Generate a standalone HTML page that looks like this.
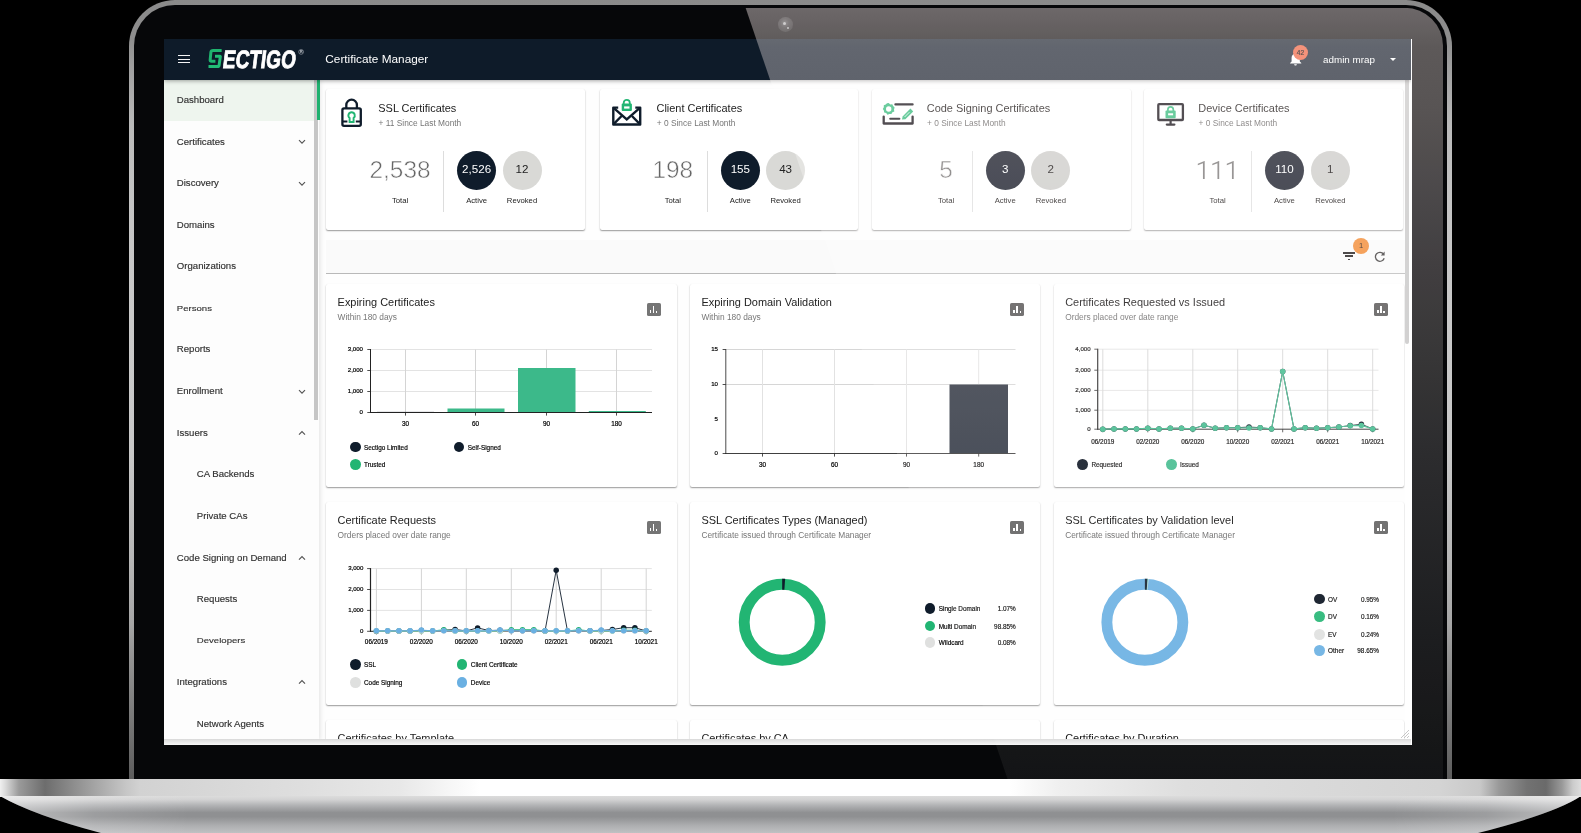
<!DOCTYPE html><html><head><meta charset="utf-8"><title>Sectigo Certificate Manager</title><style>
*{box-sizing:border-box}
html,body{margin:0;padding:0}
body{width:1581px;height:833px;overflow:hidden;background:#000;position:relative;font-family:"Liberation Sans",sans-serif;color:#222}
.abs{position:absolute}
#lid{position:absolute;left:129px;top:0;width:1323px;height:779px;border-radius:46px 46px 0 0;
 background:linear-gradient(180deg,#8a8a8a 0,#8e8e8e 5%,#9e9e9e 8.3%,#bababa 16%,#c4c4c4 26%,#c9c9c9 40%,#c8c8c8 58%,#b6b6b6 72%,#a6a6a6 80%,#989898 83%,#666 97.5%,#5c5c5c 100%)}
#bezel{position:absolute;left:134px;top:5px;width:1312.5px;height:774px;border-radius:41px 41px 0 0;background:#060709;overflow:hidden}
#screen{position:absolute;left:164px;top:39px;width:1248px;height:706px;overflow:hidden;background:#fefefe;z-index:1}
#pg{position:absolute;left:-164px;top:-39px;width:1581px;height:833px}
#hdr{position:absolute;left:164px;top:39px;width:1248px;height:41px;background:#0e1b29;box-shadow:0 1px 4px rgba(0,0,0,.35);z-index:5}
#side{position:absolute;left:164px;top:80px;width:155px;height:660px;background:#fdfdfd;box-shadow:1px 0 5px rgba(0,0,0,.12)}
.nav{position:absolute;left:176.8px;font-size:9.6px;color:#303030;-webkit-text-stroke:0.15px #303030;white-space:nowrap;line-height:12px;height:12px}
.nav.sub{left:196.8px}
.chev{position:absolute;left:298px;width:8px;height:6px}
.card{position:absolute;background:#fff;border-radius:2px;box-shadow:0 1px 1.5px rgba(0,0,0,.40),0 0 1px rgba(0,0,0,.035)}
.ct{position:absolute;font-size:10.95px;color:#222;white-space:nowrap;line-height:13px}
.cs{position:absolute;font-size:8.35px;color:#777;white-space:nowrap;line-height:10px}
.big{position:absolute;font-size:24.4px;color:#666;white-space:nowrap;line-height:28px;text-align:center;-webkit-text-stroke:0.55px #fff}
.lbl{position:absolute;font-size:7.7px;color:#222;white-space:nowrap;line-height:9px;text-align:center;width:60px}
.circ{position:absolute;width:39px;height:39px;border-radius:50%;text-align:center;line-height:36.8px;font-size:11.6px}
.vdiv{position:absolute;width:1px;background:#ddd}
.t6{position:absolute;font-size:6.1px;color:#000;white-space:nowrap;line-height:8px;-webkit-text-stroke:0.2px #000}
.t6x{font-size:6.4px}
.lg{position:absolute;font-size:6.4px;color:#000;white-space:nowrap;line-height:8px;-webkit-text-stroke:0.16px #000}
.dot{position:absolute;width:10.8px;height:10.8px;border-radius:50%}
.ibtn{position:absolute;width:14px;height:12.6px;border-radius:1.6px;background:#737373}
.ibtn i{position:absolute;bottom:2.6px;width:1.7px;background:#fff}
</style></head><body>
<div id="lid"></div>
<div id="bezel"></div>
<div id="screen"><div id="pg">
<div id="hdr"></div>
<div class="abs" style="left:178.3px;top:55.3px;width:12.1px;height:1.1px;background:#f4f4f4;z-index:6"></div>
<div class="abs" style="left:178.3px;top:58.7px;width:12.1px;height:1.1px;background:#f4f4f4;z-index:6"></div>
<div class="abs" style="left:178.3px;top:62.1px;width:12.1px;height:1.1px;background:#f4f4f4;z-index:6"></div>
<svg class="abs" style="left:204px;top:44px;z-index:6" width="106" height="30" viewBox="204 44 106 30">
<path d="M221.65 50.4 L213.1 50.4 Q211.1 50.4 210.9 52.2 L210.15 59.9 Q210.0 61.25 211.4 61.25 L215.4 61.25" fill="none" stroke="#1fb46f" stroke-width="3.0"/>
<path d="M215.0 56.2 L219.9 56.2 Q220.5 56.2 220.3 56.9 L219.1 65.2 Q218.9 66.5 217.4 66.5 L208.5 66.5" fill="none" stroke="#22bd76" stroke-width="3.0"/>
<g transform="translate(222.0 67.9) skewX(-7)"><text x="0" y="0" font-family="Liberation Sans, sans-serif" font-weight="700" font-size="25.2" fill="#fff" stroke="#fff" stroke-width="0.9" textLength="73.0" lengthAdjust="spacingAndGlyphs">ECTIGO</text></g>
<circle cx="301.1" cy="51.9" r="2.4" fill="none" stroke="#c8ccd2" stroke-width="0.5"/>
<text x="299.9" y="53.2" font-family="Liberation Sans, sans-serif" font-size="3.6" font-weight="700" fill="#c8ccd2">R</text>
</svg>
<div class="abs" style="left:325.3px;top:52px;font-size:11.8px;line-height:14px;color:#fff;white-space:nowrap;z-index:6">Certificate Manager</div>
<svg class="abs" style="left:1288px;top:50px;z-index:6" width="16" height="17" viewBox="0 0 16 17">
<path d="M7.5 15.6c.75 0 1.35-.6 1.35-1.35h-2.7c0 .75.6 1.35 1.35 1.35zm4.3-4.0V8.0c0-2.1-1.1-3.8-3.1-4.3v-.5c0-.55-.45-1-1-1s-1 .45-1 1v.5C4.7 4.2 3.6 5.9 3.6 8.0v3.6L2.1 13v.6h11.2V13l-1.5-1.4z" fill="#fff"/></svg>
<div class="abs" style="left:1292.7px;top:44.6px;width:15.6px;height:15.6px;border-radius:50%;background:#ee5e3b;z-index:7;text-align:center;font-size:6.6px;line-height:15.6px;color:#000;-webkit-text-stroke:0.2px #000">42</div>
<div class="abs" style="left:1323px;top:53.6px;font-size:9.85px;line-height:12px;color:#fff;white-space:nowrap;z-index:6">admin mrap</div>
<div class="abs" style="left:1389.6px;top:58.2px;width:0;height:0;border-left:3.4px solid transparent;border-right:3.4px solid transparent;border-top:3.4px solid #fff;z-index:6"></div>
<div id="side"></div>
<div class="abs" style="left:164px;top:80px;width:153px;height:40.6px;background:#eef5ee"></div>
<div class="abs" style="left:314.3px;top:80px;width:3.5px;height:339.5px;background:#c6c6c6"></div>
<div class="abs" style="left:317px;top:80px;width:2.8px;height:40.4px;background:#1fb16f"></div>
<div class="nav" style="top:94.0px;">Dashboard</div>
<div class="nav" style="top:135.5px;">Certificates</div>
<svg class="chev" style="top:139.0px" viewBox="0 0 8 6"><path d="M1 1.2 L4 4.2 L7 1.2" fill="none" stroke="#555" stroke-width="1.15"/></svg>
<div class="nav" style="top:177.3px;">Discovery</div>
<svg class="chev" style="top:180.8px" viewBox="0 0 8 6"><path d="M1 1.2 L4 4.2 L7 1.2" fill="none" stroke="#555" stroke-width="1.15"/></svg>
<div class="nav" style="top:218.5px;">Domains</div>
<div class="nav" style="top:260.4px;">Organizations</div>
<div class="nav" style="top:302.2px;transform:scaleY(.84);transform-origin:0 50%;">Persons</div>
<div class="nav" style="top:343.4px;">Reports</div>
<div class="nav" style="top:385.2px;">Enrollment</div>
<svg class="chev" style="top:388.7px" viewBox="0 0 8 6"><path d="M1 1.2 L4 4.2 L7 1.2" fill="none" stroke="#555" stroke-width="1.15"/></svg>
<div class="nav" style="top:426.5px;">Issuers</div>
<svg class="chev" style="top:430.0px" viewBox="0 0 8 6"><path d="M1 4.6 L4 1.6 L7 4.6" fill="none" stroke="#555" stroke-width="1.15"/></svg>
<div class="nav sub" style="top:468.3px;">CA Backends</div>
<div class="nav sub" style="top:510.1px;">Private CAs</div>
<div class="nav" style="top:551.6px;">Code Signing on Demand</div>
<svg class="chev" style="top:555.1px" viewBox="0 0 8 6"><path d="M1 4.6 L4 1.6 L7 4.6" fill="none" stroke="#555" stroke-width="1.15"/></svg>
<div class="nav sub" style="top:593.4px;">Requests</div>
<div class="nav sub" style="top:634.3px;transform:scaleY(.84);transform-origin:0 50%;">Developers</div>
<div class="nav" style="top:675.9px;">Integrations</div>
<svg class="chev" style="top:679.4px" viewBox="0 0 8 6"><path d="M1 4.6 L4 1.6 L7 4.6" fill="none" stroke="#555" stroke-width="1.15"/></svg>
<div class="nav sub" style="top:717.5px;">Network Agents</div>
<div class="card" style="left:326.2px;top:88.5px;width:259.3px;height:141px"></div>
<svg class="abs" style="left:340.0px;top:95.6px" width="26" height="32" viewBox="0 0 26 32">
<path d="M6.3 12.2 V9.0 A5.3 5.3 0 0 1 16.9 9.0 V12.2" fill="none" stroke="#0f1c2b" stroke-width="2.3"/>
<rect x="2.4" y="12.3" width="18.4" height="17.6" rx="1.6" fill="none" stroke="#0f1c2b" stroke-width="2.3"/>
<path d="M2.4 25.6 H7.4 M15.8 25.6 H20.8" stroke="#0f1c2b" stroke-width="2"/>
<path d="M11.6 16.2 a3.2 3.2 0 0 1 2.0 5.7 V26.0 H9.6 V21.9 a3.2 3.2 0 0 1 2.0 -5.7z" fill="none" stroke="#22b573" stroke-width="1.9"/>
</svg>
<div class="ct" style="left:378.29999999999995px;top:101.5px;color:#222">SSL Certificates</div>
<div class="cs" style="left:378.59999999999997px;top:118.2px;color:#777">+ 11 Since Last Month</div>
<div class="big" style="left:350.0px;width:100px;top:156.2px">2,538</div>
<div class="lbl" style="left:370.0px;top:196.1px;color:#222">Total</div>
<div class="vdiv" style="left:442.8px;top:151px;height:60.5px"></div>
<div class="circ" style="left:457.1px;top:150.9px;background:#0f1c2b;color:#fff">2,526</div>
<div class="lbl" style="left:446.6px;top:196.1px;color:#222">Active</div>
<div class="circ" style="left:502.5px;top:150.9px;background:#d9d9d6;color:#222">12</div>
<div class="lbl" style="left:492.0px;top:196.1px;color:#222">Revoked</div>
<div class="card" style="left:600.0px;top:88.5px;width:258.3px;height:141px"></div>
<svg class="abs" style="left:609.8px;top:97.0px" width="34" height="32" viewBox="0 0 34 32">
<path d="M8.2 10.6 H3.3 V27.5 H30.2 V10.6 H25.3" fill="none" stroke="#0f1c2b" stroke-width="2.4" stroke-linejoin="round"/>
<path d="M3.6 10.9 L16.75 22.3 L29.9 10.9" fill="none" stroke="#0f1c2b" stroke-width="2.4"/>
<path d="M3.6 27.2 L11.6 19.0 M29.9 27.2 L21.9 19.0" fill="none" stroke="#0f1c2b" stroke-width="2.4"/>
<path d="M13.7 7.2 V5.9 a3.05 3.05 0 0 1 6.1 0 V7.2" fill="none" stroke="#22b573" stroke-width="1.8"/>
<rect x="11.7" y="6.6" width="10.2" height="7.5" rx="1" fill="#22b573"/>
<rect x="14.1" y="9.4" width="5.4" height="2.2" fill="#fff"/>
</svg>
<div class="ct" style="left:656.5px;top:101.5px;color:#222">Client Certificates</div>
<div class="cs" style="left:656.8000000000001px;top:118.2px;color:#777">+ 0 Since Last Month</div>
<div class="big" style="left:622.8px;width:100px;top:156.2px">198</div>
<div class="lbl" style="left:642.8px;top:196.1px;color:#222">Total</div>
<div class="vdiv" style="left:706.7px;top:151px;height:60.5px"></div>
<div class="circ" style="left:720.8px;top:150.9px;background:#0f1c2b;color:#fff">155</div>
<div class="lbl" style="left:710.3px;top:196.1px;color:#222">Active</div>
<div class="circ" style="left:766.1px;top:150.9px;background:#d9d9d6;color:#222">43</div>
<div class="lbl" style="left:755.6px;top:196.1px;color:#222">Revoked</div>
<div class="card" style="left:872.0px;top:88.5px;width:258.5px;height:141px"></div>
<svg class="abs" style="left:881.2px;top:99.0px" width="38" height="30" viewBox="0 0 38 30">
<path d="M14.4 5.4 H31.6" stroke="#000008" stroke-width="2.2" stroke-linecap="round"/>
<path d="M2.7 17.6 V24.5 H31.6 V17.6" fill="none" stroke="#000008" stroke-width="2.3" stroke-linejoin="round" stroke-linecap="round"/>
<path d="M9.2 19.8 H18.4" stroke="#000008" stroke-width="2.0" stroke-linecap="round"/>
<g transform="translate(7.7 10)"><path d="M0 -5.9 L1.6 -4.6 L3.6 -4.8 L4.4 -2.9 L5.9 -1.6 L5.3 0.4 L5.6 2.4 L3.7 3.2 L2.7 5.0 L0.7 4.9 L-1.2 5.7 L-2.5 4.1 L-4.5 3.6 L-4.8 1.6 L-5.9 0 L-4.9 -1.8 L-4.9 -3.8 L-3.0 -4.5 L-1.7 -5.7 Z" fill="#22b573"/><circle r="2.7" fill="#fff"/></g>
<path d="M21.0 20.6 L21.6 17.4 L29.4 9.6 L32.2 12.4 L24.4 20.2 Z" fill="#22b573"/>
<path d="M23.6 18.0 L28.4 13.2" stroke="#fff" stroke-width="0.8"/>
</svg>
<div class="ct" style="left:926.8px;top:101.5px;color:#000">Code Signing Certificates</div>
<div class="cs" style="left:927.1px;top:118.2px;color:#5a5a5a">+ 0 Since Last Month</div>
<div class="big" style="left:896.0px;width:100px;top:156.2px">5</div>
<div class="lbl" style="left:916.0px;top:196.1px;color:#000">Total</div>
<div class="vdiv" style="left:972.0px;top:151px;height:60.5px"></div>
<div class="circ" style="left:985.7px;top:150.9px;background:#040d1b;color:#fff">3</div>
<div class="lbl" style="left:975.2px;top:196.1px;color:#000">Active</div>
<div class="circ" style="left:1031.3px;top:150.9px;background:#c9c9c6;color:#000">2</div>
<div class="lbl" style="left:1020.8px;top:196.1px;color:#000">Revoked</div>
<div class="card" style="left:1143.6px;top:88.5px;width:259.9px;height:141px"></div>
<svg class="abs" style="left:1156.1px;top:101.7px" width="32" height="28" viewBox="0 0 32 28">
<rect x="2.3" y="2.2" width="24.6" height="15.8" rx="0.8" fill="none" stroke="#000008" stroke-width="2.3"/>
<path d="M14.6 18.2 V22.4" stroke="#000008" stroke-width="2.2"/>
<path d="M10.8 22.6 H18.4" stroke="#000008" stroke-width="2.2" stroke-linecap="round"/>
<path d="M11.9 9.4 V7.6 a2.7 2.7 0 0 1 5.4 0 V9.4" fill="none" stroke="#22b573" stroke-width="1.7"/>
<rect x="9.5" y="8.6" width="10.2" height="7.6" rx="0.9" fill="#22b573"/>
<rect x="12.1" y="11.3" width="5.0" height="2.0" fill="#fff"/>
</svg>
<div class="ct" style="left:1198.3000000000002px;top:101.5px;color:#000">Device Certificates</div>
<div class="cs" style="left:1198.6000000000001px;top:118.2px;color:#5a5a5a">+ 0 Since Last Month</div>
<svg class="abs" style="left:1190px;top:155px" width="60" height="30" viewBox="1190 155 60 30">
<path d="M1204.7 161.0 V178.9 H1202.95 V163.3 L1197.8 165.3 V163.7 L1204.4 161.0 Z" fill="#6e6e6e"/>
<path d="M1219.2 161.0 V178.9 H1217.45 V163.3 L1212.3 165.3 V163.7 L1218.9 161.0 Z" fill="#6e6e6e"/>
<path d="M1233.7 161.0 V178.9 H1231.95 V163.3 L1226.8 165.3 V163.7 L1233.4 161.0 Z" fill="#6e6e6e"/>
</svg>
<div class="lbl" style="left:1187.6px;top:196.1px;color:#000">Total</div>
<div class="vdiv" style="left:1251.0px;top:151px;height:60.5px"></div>
<div class="circ" style="left:1264.9px;top:150.9px;background:#040d1b;color:#fff">110</div>
<div class="lbl" style="left:1254.4px;top:196.1px;color:#000">Active</div>
<div class="circ" style="left:1310.8px;top:150.9px;background:#c9c9c6;color:#000">1</div>
<div class="lbl" style="left:1300.3px;top:196.1px;color:#000">Revoked</div>
<div class="abs" style="left:326.2px;top:239.8px;width:1079.5px;height:34px;background:#fafafa;border-bottom:1.2px solid #b9b9b9"></div>
<div class="abs" style="left:1343px;top:252.4px;width:12px;height:1.3px;background:#141414"></div>
<div class="abs" style="left:1345.1px;top:255.45px;width:7.8px;height:1.3px;background:#141414"></div>
<div class="abs" style="left:1347.9px;top:258.75px;width:2.4px;height:1.3px;background:#141414"></div>
<div class="abs" style="left:1353px;top:237.8px;width:16px;height:16px;border-radius:50%;background:#f2862b;text-align:center;font-size:7.6px;line-height:16px;color:#1a1008">1</div>
<svg class="abs" style="left:1373px;top:249.5px" width="14" height="14" viewBox="0 0 14 14">
<path d="M10.6 4.2 A4.5 4.5 0 1 0 11.2 8.2" fill="none" stroke="#333" stroke-width="1.3"/>
<path d="M11.6 1.6 V5.4 H7.8 Z" fill="#333"/></svg>
<div class="card" style="left:326.2px;top:284.0px;width:350.4px;height:203px"></div>
<div class="ct" style="left:337.59999999999997px;top:295.6px;color:#222">Expiring Certificates</div>
<div class="cs" style="left:337.59999999999997px;top:312.2px;color:#777">Within 180 days</div>
<div class="ibtn" style="background:#757575;left:646.5px;top:303.1px"><i style="left:3.2px;height:3.6px"></i><i style="left:6.2px;height:7.2px"></i><i style="left:9.3px;height:2.0px"></i></div>
<div class="card" style="left:690.0px;top:284.0px;width:350.4px;height:203px"></div>
<div class="ct" style="left:701.4px;top:295.6px;color:#222">Expiring Domain Validation</div>
<div class="cs" style="left:701.4px;top:312.2px;color:#777">Within 180 days</div>
<div class="ibtn" style="background:#4e4e4e;left:1010.3px;top:303.1px"><i style="left:3.2px;height:3.6px"></i><i style="left:6.2px;height:7.2px"></i><i style="left:9.3px;height:2.0px"></i></div>
<div class="card" style="left:1053.8px;top:284.0px;width:350.4px;height:203px"></div>
<div class="ct" style="left:1065.2px;top:295.6px;color:#050505">Certificates Requested vs Issued</div>
<div class="cs" style="left:1065.2px;top:312.2px;color:#666">Orders placed over date range</div>
<div class="ibtn" style="background:#4e4e4e;left:1374.1px;top:303.1px"><i style="left:3.2px;height:3.6px"></i><i style="left:6.2px;height:7.2px"></i><i style="left:9.3px;height:2.0px"></i></div>
<div class="card" style="left:326.2px;top:502.0px;width:350.4px;height:203px"></div>
<div class="ct" style="left:337.59999999999997px;top:513.6px;color:#222">Certificate Requests</div>
<div class="cs" style="left:337.59999999999997px;top:530.2px;color:#777">Orders placed over date range</div>
<div class="ibtn" style="background:#757575;left:646.5px;top:521.1px"><i style="left:3.2px;height:3.6px"></i><i style="left:6.2px;height:7.2px"></i><i style="left:9.3px;height:2.0px"></i></div>
<div class="card" style="left:690.0px;top:502.0px;width:350.4px;height:203px"></div>
<div class="ct" style="left:701.4px;top:513.6px;color:#222">SSL Certificates Types (Managed)</div>
<div class="cs" style="left:701.4px;top:530.2px;color:#777">Certificate issued through Certificate Manager</div>
<div class="ibtn" style="background:#5e5e5e;left:1010.3px;top:521.1px"><i style="left:3.2px;height:3.6px"></i><i style="left:6.2px;height:7.2px"></i><i style="left:9.3px;height:2.0px"></i></div>
<div class="card" style="left:1053.8px;top:502.0px;width:350.4px;height:203px"></div>
<div class="ct" style="left:1065.2px;top:513.6px;color:#050505">SSL Certificates by Validation level</div>
<div class="cs" style="left:1065.2px;top:530.2px;color:#666">Certificate issued through Certificate Manager</div>
<div class="ibtn" style="background:#5e5e5e;left:1374.1px;top:521.1px"><i style="left:3.2px;height:3.6px"></i><i style="left:6.2px;height:7.2px"></i><i style="left:9.3px;height:2.0px"></i></div>
<div class="card" style="left:326.2px;top:720.0px;width:350.4px;height:203px"></div>
<div class="ct" style="left:337.59999999999997px;top:731.6px;color:#222">Certificates by Template</div>
<div class="ibtn" style="background:#757575;left:646.5px;top:739.1px"><i style="left:3.2px;height:3.6px"></i><i style="left:6.2px;height:7.2px"></i><i style="left:9.3px;height:2.0px"></i></div>
<div class="card" style="left:690.0px;top:720.0px;width:350.4px;height:203px"></div>
<div class="ct" style="left:701.4px;top:731.6px;color:#222">Certificates by CA</div>
<div class="ibtn" style="background:#5e5e5e;left:1010.3px;top:739.1px"><i style="left:3.2px;height:3.6px"></i><i style="left:6.2px;height:7.2px"></i><i style="left:9.3px;height:2.0px"></i></div>
<div class="card" style="left:1053.8px;top:720.0px;width:350.4px;height:203px"></div>
<div class="ct" style="left:1065.2px;top:731.6px;color:#050505">Certificates by Duration</div>
<div class="ibtn" style="background:#5e5e5e;left:1374.1px;top:739.1px"><i style="left:3.2px;height:3.6px"></i><i style="left:6.2px;height:7.2px"></i><i style="left:9.3px;height:2.0px"></i></div>
<svg class="abs" style="left:0;top:0;pointer-events:none" width="1581" height="833" viewBox="0 0 1581 833">
<path d="M370.5 349.5 H652" stroke="#e3e3e3" stroke-width="1"/>
<path d="M370.5 370.5 H652" stroke="#e3e3e3" stroke-width="1"/>
<path d="M370.5 391.5 H652" stroke="#e3e3e3" stroke-width="1"/>
<path d="M405.5 349.5 V412.5" stroke="#d4d4d4" stroke-width="1"/>
<path d="M475.5 349.5 V412.5" stroke="#d4d4d4" stroke-width="1"/>
<path d="M546.5 349.5 V412.5" stroke="#d4d4d4" stroke-width="1"/>
<path d="M616.5 349.5 V412.5" stroke="#d4d4d4" stroke-width="1"/>
<rect x="447.5" y="408.5" width="57" height="4" fill="#3cb98a"/>
<rect x="518" y="368" width="57.5" height="44.5" fill="#3cb98a"/>
<rect x="588.8" y="411" width="57" height="1.5" fill="#3cb98a"/>
<rect x="377" y="411.9" width="57" height="0.8" fill="#0f1c2b"/>
<path d="M370.5 349 V413" stroke="#222" stroke-width="1"/><path d="M370 412.5 H652" stroke="#222" stroke-width="1"/>
<path d="M367.3 349.5 H370.5" stroke="#222" stroke-width="0.8"/>
<path d="M367.3 370.5 H370.5" stroke="#222" stroke-width="0.8"/>
<path d="M367.3 391.5 H370.5" stroke="#222" stroke-width="0.8"/>
<path d="M367.3 412.5 H370.5" stroke="#222" stroke-width="0.8"/>
<path d="M405.5 412.5 V415.6" stroke="#222" stroke-width="0.8"/>
<path d="M475.5 412.5 V415.6" stroke="#222" stroke-width="0.8"/>
<path d="M546.5 412.5 V415.6" stroke="#222" stroke-width="0.8"/>
<path d="M616.5 412.5 V415.6" stroke="#222" stroke-width="0.8"/>
</svg>
<div class="t6" style="left:333px;width:30px;text-align:right;top:345.3px">3,000</div>
<div class="t6" style="left:333px;width:30px;text-align:right;top:366.3px">2,000</div>
<div class="t6" style="left:333px;width:30px;text-align:right;top:387.3px">1,000</div>
<div class="t6" style="left:333px;width:30px;text-align:right;top:408.3px">0</div>
<div class="t6 t6x" style="left:390.5px;width:30px;text-align:center;top:419.8px">30</div>
<div class="t6 t6x" style="left:460.5px;width:30px;text-align:center;top:419.8px">60</div>
<div class="t6 t6x" style="left:531.5px;width:30px;text-align:center;top:419.8px">90</div>
<div class="t6 t6x" style="left:601.5px;width:30px;text-align:center;top:419.8px">180</div>
<div class="dot" style="left:349.8px;top:441.6px;background:#0f1c2b"></div>
<div class="lg" style="left:364.0px;top:443.5px">Sectigo Limited</div>
<div class="dot" style="left:453.6px;top:441.6px;background:#0f1c2b"></div>
<div class="lg" style="left:467.8px;top:443.5px">Self-Signed</div>
<div class="dot" style="left:349.8px;top:459.1px;background:#22b573"></div>
<div class="lg" style="left:364.0px;top:461.0px">Trusted</div>
<svg class="abs" style="left:0;top:0;pointer-events:none" width="1581" height="833" viewBox="0 0 1581 833">
<path d="M725.8 349.5 H1015.5" stroke="#d6d6d6" stroke-width="1"/>
<path d="M725.8 384.5 H1015.5" stroke="#d6d6d6" stroke-width="1"/>
<path d="M762.5 349.5 V453.5" stroke="#e2e2e2" stroke-width="1"/>
<path d="M834.5 349.5 V453.5" stroke="#e2e2e2" stroke-width="1"/>
<path d="M906.5 349.5 V453.5" stroke="#e2e2e2" stroke-width="1"/>
<path d="M978.7 349.5 V453.5" stroke="#e2e2e2" stroke-width="1"/>
<rect x="949.5" y="384.5" width="58.5" height="69" fill="#2b323e"/>
<path d="M725.8 349 V454" stroke="#2a2a2a" stroke-width="0.85"/><path d="M725.3 453.5 H1015.5" stroke="#2a2a2a" stroke-width="0.9"/>
<path d="M722.6 349.5 H725.8" stroke="#222" stroke-width="0.8"/>
<path d="M722.6 384.5 H725.8" stroke="#222" stroke-width="0.8"/>
<path d="M722.6 453.5 H725.8" stroke="#222" stroke-width="0.8"/>
<path d="M762.5 453.5 V456.6" stroke="#222" stroke-width="0.8"/>
<path d="M834.5 453.5 V456.6" stroke="#222" stroke-width="0.8"/>
<path d="M906.5 453.5 V456.6" stroke="#222" stroke-width="0.8"/>
<path d="M978.7 453.5 V456.6" stroke="#222" stroke-width="0.8"/>
</svg>
<div class="t6" style="left:688px;width:30px;text-align:right;top:345.3px">15</div>
<div class="t6" style="left:688px;width:30px;text-align:right;top:380.3px">10</div>
<div class="t6" style="left:688px;width:30px;text-align:right;top:414.8px">5</div>
<div class="t6" style="left:688px;width:30px;text-align:right;top:449.3px">0</div>
<div class="t6 t6x" style="left:747.5px;width:30px;text-align:center;top:461.3px">30</div>
<div class="t6 t6x" style="left:819.5px;width:30px;text-align:center;top:461.3px">60</div>
<div class="t6 t6x" style="left:891.5px;width:30px;text-align:center;top:461.3px">90</div>
<div class="t6 t6x" style="left:963.7px;width:30px;text-align:center;top:461.3px">180</div>
<svg class="abs" style="left:0;top:0;pointer-events:none" width="1581" height="833" viewBox="0 0 1581 833">
<path d="M1097.7 349.2 H1378.5" stroke="#e3e3e3" stroke-width="1"/>
<path d="M1097.7 370.2 H1378.5" stroke="#e3e3e3" stroke-width="1"/>
<path d="M1097.7 390.4 H1378.5" stroke="#e3e3e3" stroke-width="1"/>
<path d="M1097.7 410.2 H1378.5" stroke="#e3e3e3" stroke-width="1"/>
<path d="M1102.8 349.2 V429.2" stroke="#d4d4d4" stroke-width="1"/>
<path d="M1147.8 349.2 V429.2" stroke="#d4d4d4" stroke-width="1"/>
<path d="M1192.8 349.2 V429.2" stroke="#d4d4d4" stroke-width="1"/>
<path d="M1237.7 349.2 V429.2" stroke="#d4d4d4" stroke-width="1"/>
<path d="M1282.7 349.2 V429.2" stroke="#d4d4d4" stroke-width="1"/>
<path d="M1327.7 349.2 V429.2" stroke="#d4d4d4" stroke-width="1"/>
<path d="M1372.7 349.2 V429.2" stroke="#d4d4d4" stroke-width="1"/>
<path d="M1097.7 348.7 V429.7" stroke="#222" stroke-width="1.2"/><path d="M1097.2 429.2 H1378.5" stroke="#222" stroke-width="1"/>
<path d="M1094.3 349.2 H1097.7" stroke="#222" stroke-width="0.8"/>
<path d="M1094.3 370.2 H1097.7" stroke="#222" stroke-width="0.8"/>
<path d="M1094.3 390.4 H1097.7" stroke="#222" stroke-width="0.8"/>
<path d="M1094.3 410.2 H1097.7" stroke="#222" stroke-width="0.8"/>
<path d="M1094.3 429.2 H1097.7" stroke="#222" stroke-width="0.8"/>
<path d="M1102.8 429.2 V432.3" stroke="#222" stroke-width="0.8"/>
<path d="M1147.8 429.2 V432.3" stroke="#222" stroke-width="0.8"/>
<path d="M1192.8 429.2 V432.3" stroke="#222" stroke-width="0.8"/>
<path d="M1237.7 429.2 V432.3" stroke="#222" stroke-width="0.8"/>
<path d="M1282.7 429.2 V432.3" stroke="#222" stroke-width="0.8"/>
<path d="M1327.7 429.2 V432.3" stroke="#222" stroke-width="0.8"/>
<path d="M1372.7 429.2 V432.3" stroke="#222" stroke-width="0.8"/>
<polyline points="1102.8,429.2 1114.0,428.9 1125.3,428.9 1136.5,428.9 1147.8,428.2 1159.0,428.9 1170.3,428.2 1181.5,428.2 1192.8,428.9 1204.0,425.2 1215.2,428.2 1226.5,427.7 1237.7,427.7 1249.0,427.0 1260.2,427.7 1271.5,428.9 1282.7,371.4 1294.0,428.9 1305.2,427.7 1316.5,428.2 1327.7,427.7 1338.9,427.0 1350.2,425.6 1361.4,424.2 1372.7,428.9" fill="none" stroke="#040d1b" stroke-width="0.9"/>
<circle cx="1102.8" cy="429.2" r="2.75" fill="#040d1b"/>
<circle cx="1114.0" cy="428.9" r="2.75" fill="#040d1b"/>
<circle cx="1125.3" cy="428.9" r="2.75" fill="#040d1b"/>
<circle cx="1136.5" cy="428.9" r="2.75" fill="#040d1b"/>
<circle cx="1147.8" cy="428.2" r="2.75" fill="#040d1b"/>
<circle cx="1159.0" cy="428.9" r="2.75" fill="#040d1b"/>
<circle cx="1170.3" cy="428.2" r="2.75" fill="#040d1b"/>
<circle cx="1181.5" cy="428.2" r="2.75" fill="#040d1b"/>
<circle cx="1192.8" cy="428.9" r="2.75" fill="#040d1b"/>
<circle cx="1204.0" cy="425.2" r="2.75" fill="#040d1b"/>
<circle cx="1215.2" cy="428.2" r="2.75" fill="#040d1b"/>
<circle cx="1226.5" cy="427.7" r="2.75" fill="#040d1b"/>
<circle cx="1237.7" cy="427.7" r="2.75" fill="#040d1b"/>
<circle cx="1249.0" cy="427.0" r="2.75" fill="#040d1b"/>
<circle cx="1260.2" cy="427.7" r="2.75" fill="#040d1b"/>
<circle cx="1271.5" cy="428.9" r="2.75" fill="#040d1b"/>
<circle cx="1282.7" cy="371.4" r="2.75" fill="#040d1b"/>
<circle cx="1294.0" cy="428.9" r="2.75" fill="#040d1b"/>
<circle cx="1305.2" cy="427.7" r="2.75" fill="#040d1b"/>
<circle cx="1316.5" cy="428.2" r="2.75" fill="#040d1b"/>
<circle cx="1327.7" cy="427.7" r="2.75" fill="#040d1b"/>
<circle cx="1338.9" cy="427.0" r="2.75" fill="#040d1b"/>
<circle cx="1350.2" cy="425.6" r="2.75" fill="#040d1b"/>
<circle cx="1361.4" cy="424.2" r="2.75" fill="#040d1b"/>
<circle cx="1372.7" cy="428.9" r="2.75" fill="#040d1b"/>
<polyline points="1102.8,429.2 1114.0,428.9 1125.3,428.9 1136.5,428.9 1147.8,428.2 1159.0,428.9 1170.3,428.2 1181.5,428.2 1192.8,428.9 1204.0,425.2 1215.2,428.2 1226.5,427.7 1237.7,427.7 1249.0,428.0 1260.2,427.7 1271.5,428.9 1282.7,371.6 1294.0,428.9 1305.2,427.7 1316.5,428.2 1327.7,427.7 1338.9,427.0 1350.2,425.8 1361.4,425.4 1372.7,428.9" fill="none" stroke="#3cb98a" stroke-width="1.1"/>
<circle cx="1102.8" cy="429.2" r="2.75" fill="#3cb98a"/>
<circle cx="1114.0" cy="428.9" r="2.75" fill="#3cb98a"/>
<circle cx="1125.3" cy="428.9" r="2.75" fill="#3cb98a"/>
<circle cx="1136.5" cy="428.9" r="2.75" fill="#3cb98a"/>
<circle cx="1147.8" cy="428.2" r="2.75" fill="#3cb98a"/>
<circle cx="1159.0" cy="428.9" r="2.75" fill="#3cb98a"/>
<circle cx="1170.3" cy="428.2" r="2.75" fill="#3cb98a"/>
<circle cx="1181.5" cy="428.2" r="2.75" fill="#3cb98a"/>
<circle cx="1192.8" cy="428.9" r="2.75" fill="#3cb98a"/>
<circle cx="1204.0" cy="425.2" r="2.75" fill="#3cb98a"/>
<circle cx="1215.2" cy="428.2" r="2.75" fill="#3cb98a"/>
<circle cx="1226.5" cy="427.7" r="2.75" fill="#3cb98a"/>
<circle cx="1237.7" cy="427.7" r="2.75" fill="#3cb98a"/>
<circle cx="1249.0" cy="428.0" r="2.75" fill="#3cb98a"/>
<circle cx="1260.2" cy="427.7" r="2.75" fill="#3cb98a"/>
<circle cx="1271.5" cy="428.9" r="2.75" fill="#3cb98a"/>
<circle cx="1282.7" cy="371.6" r="2.75" fill="#3cb98a"/>
<circle cx="1294.0" cy="428.9" r="2.75" fill="#3cb98a"/>
<circle cx="1305.2" cy="427.7" r="2.75" fill="#3cb98a"/>
<circle cx="1316.5" cy="428.2" r="2.75" fill="#3cb98a"/>
<circle cx="1327.7" cy="427.7" r="2.75" fill="#3cb98a"/>
<circle cx="1338.9" cy="427.0" r="2.75" fill="#3cb98a"/>
<circle cx="1350.2" cy="425.8" r="2.75" fill="#3cb98a"/>
<circle cx="1361.4" cy="425.4" r="2.75" fill="#3cb98a"/>
<circle cx="1372.7" cy="428.9" r="2.75" fill="#3cb98a"/>
</svg>
<div class="t6" style="left:1060.6px;width:30px;text-align:right;top:345.0px">4,000</div>
<div class="t6" style="left:1060.6px;width:30px;text-align:right;top:366.0px">3,000</div>
<div class="t6" style="left:1060.6px;width:30px;text-align:right;top:386.2px">2,000</div>
<div class="t6" style="left:1060.6px;width:30px;text-align:right;top:406.0px">1,000</div>
<div class="t6" style="left:1060.6px;width:30px;text-align:right;top:425.0px">0</div>
<div class="t6 t6x" style="left:1082.8px;width:40px;text-align:center;top:438.0px">06/2019</div>
<div class="t6 t6x" style="left:1127.8px;width:40px;text-align:center;top:438.0px">02/2020</div>
<div class="t6 t6x" style="left:1172.8px;width:40px;text-align:center;top:438.0px">06/2020</div>
<div class="t6 t6x" style="left:1217.7px;width:40px;text-align:center;top:438.0px">10/2020</div>
<div class="t6 t6x" style="left:1262.7px;width:40px;text-align:center;top:438.0px">02/2021</div>
<div class="t6 t6x" style="left:1307.7px;width:40px;text-align:center;top:438.0px">06/2021</div>
<div class="t6 t6x" style="left:1352.7px;width:40px;text-align:center;top:438.0px">10/2021</div>
<div class="dot" style="left:1077.1999999999998px;top:459.1px;background:#040d1b"></div>
<div class="lg" style="left:1091.3999999999999px;top:461.0px">Requested</div>
<div class="dot" style="left:1165.8999999999999px;top:459.1px;background:#3cb98a"></div>
<div class="lg" style="left:1180.1px;top:461.0px">Issued</div>
<svg class="abs" style="left:0;top:0;pointer-events:none" width="1581" height="833" viewBox="0 0 1581 833">
<path d="M370.5 568.6 H651.8" stroke="#e3e3e3" stroke-width="1"/>
<path d="M370.5 589.5 H651.8" stroke="#e3e3e3" stroke-width="1"/>
<path d="M370.5 610.4 H651.8" stroke="#e3e3e3" stroke-width="1"/>
<path d="M376.4 568.6 V631.3" stroke="#d4d4d4" stroke-width="1"/>
<path d="M421.4 568.6 V631.3" stroke="#d4d4d4" stroke-width="1"/>
<path d="M466.3 568.6 V631.3" stroke="#d4d4d4" stroke-width="1"/>
<path d="M511.3 568.6 V631.3" stroke="#d4d4d4" stroke-width="1"/>
<path d="M556.2 568.6 V631.3" stroke="#d4d4d4" stroke-width="1"/>
<path d="M601.2 568.6 V631.3" stroke="#d4d4d4" stroke-width="1"/>
<path d="M646.2 568.6 V631.3" stroke="#d4d4d4" stroke-width="1"/>
<path d="M370.5 568.1 V631.8" stroke="#222" stroke-width="1.2"/><path d="M370.0 631.3 H651.8" stroke="#222" stroke-width="1"/>
<path d="M367.1 568.6 H370.5" stroke="#222" stroke-width="0.8"/>
<path d="M367.1 589.5 H370.5" stroke="#222" stroke-width="0.8"/>
<path d="M367.1 610.4 H370.5" stroke="#222" stroke-width="0.8"/>
<path d="M367.1 631.3 H370.5" stroke="#222" stroke-width="0.8"/>
<path d="M376.4 631.3 V634.4" stroke="#222" stroke-width="0.8"/>
<path d="M421.4 631.3 V634.4" stroke="#222" stroke-width="0.8"/>
<path d="M466.3 631.3 V634.4" stroke="#222" stroke-width="0.8"/>
<path d="M511.3 631.3 V634.4" stroke="#222" stroke-width="0.8"/>
<path d="M556.2 631.3 V634.4" stroke="#222" stroke-width="0.8"/>
<path d="M601.2 631.3 V634.4" stroke="#222" stroke-width="0.8"/>
<path d="M646.2 631.3 V634.4" stroke="#222" stroke-width="0.8"/>
<polyline points="376.4,631.3 387.6,631.0 398.9,631.0 410.1,631.0 421.4,630.5 432.6,631.0 443.8,630.3 455.1,629.5 466.3,630.9 477.6,627.9 488.8,630.5 500.0,630.3 511.3,630.5 522.5,630.7 533.8,630.5 545.0,631.0 556.2,570.2 567.5,631.0 578.7,630.5 590.0,630.7 601.2,630.5 612.4,629.5 623.7,627.7 634.9,627.7 646.2,631.0" fill="none" stroke="#0f1c2b" stroke-width="0.9"/>
<circle cx="376.4" cy="631.3" r="2.75" fill="#0f1c2b"/>
<circle cx="387.6" cy="631.0" r="2.75" fill="#0f1c2b"/>
<circle cx="398.9" cy="631.0" r="2.75" fill="#0f1c2b"/>
<circle cx="410.1" cy="631.0" r="2.75" fill="#0f1c2b"/>
<circle cx="421.4" cy="630.5" r="2.75" fill="#0f1c2b"/>
<circle cx="432.6" cy="631.0" r="2.75" fill="#0f1c2b"/>
<circle cx="443.8" cy="630.3" r="2.75" fill="#0f1c2b"/>
<circle cx="455.1" cy="629.5" r="2.75" fill="#0f1c2b"/>
<circle cx="466.3" cy="630.9" r="2.75" fill="#0f1c2b"/>
<circle cx="477.6" cy="627.9" r="2.75" fill="#0f1c2b"/>
<circle cx="488.8" cy="630.5" r="2.75" fill="#0f1c2b"/>
<circle cx="500.0" cy="630.3" r="2.75" fill="#0f1c2b"/>
<circle cx="511.3" cy="630.5" r="2.75" fill="#0f1c2b"/>
<circle cx="522.5" cy="630.7" r="2.75" fill="#0f1c2b"/>
<circle cx="533.8" cy="630.5" r="2.75" fill="#0f1c2b"/>
<circle cx="545.0" cy="631.0" r="2.75" fill="#0f1c2b"/>
<circle cx="556.2" cy="570.2" r="2.75" fill="#0f1c2b"/>
<circle cx="567.5" cy="631.0" r="2.75" fill="#0f1c2b"/>
<circle cx="578.7" cy="630.5" r="2.75" fill="#0f1c2b"/>
<circle cx="590.0" cy="630.7" r="2.75" fill="#0f1c2b"/>
<circle cx="601.2" cy="630.5" r="2.75" fill="#0f1c2b"/>
<circle cx="612.4" cy="629.5" r="2.75" fill="#0f1c2b"/>
<circle cx="623.7" cy="627.7" r="2.75" fill="#0f1c2b"/>
<circle cx="634.9" cy="627.7" r="2.75" fill="#0f1c2b"/>
<circle cx="646.2" cy="631.0" r="2.75" fill="#0f1c2b"/>
<polyline points="376.4,631.1 387.6,631.1 398.9,631.1 410.1,631.1 421.4,631.1 432.6,631.1 443.8,629.7 455.1,631.1 466.3,631.1 477.6,631.1 488.8,631.1 500.0,631.1 511.3,629.7 522.5,629.7 533.8,629.7 545.0,631.1 556.2,631.1 567.5,631.1 578.7,629.7 590.0,631.1 601.2,631.1 612.4,631.1 623.7,630.3 634.9,630.3 646.2,631.1" fill="none" stroke="#22b573" stroke-width="1.1"/>
<circle cx="376.4" cy="631.1" r="2.75" fill="#22b573"/>
<circle cx="387.6" cy="631.1" r="2.75" fill="#22b573"/>
<circle cx="398.9" cy="631.1" r="2.75" fill="#22b573"/>
<circle cx="410.1" cy="631.1" r="2.75" fill="#22b573"/>
<circle cx="421.4" cy="631.1" r="2.75" fill="#22b573"/>
<circle cx="432.6" cy="631.1" r="2.75" fill="#22b573"/>
<circle cx="443.8" cy="629.7" r="2.75" fill="#22b573"/>
<circle cx="455.1" cy="631.1" r="2.75" fill="#22b573"/>
<circle cx="466.3" cy="631.1" r="2.75" fill="#22b573"/>
<circle cx="477.6" cy="631.1" r="2.75" fill="#22b573"/>
<circle cx="488.8" cy="631.1" r="2.75" fill="#22b573"/>
<circle cx="500.0" cy="631.1" r="2.75" fill="#22b573"/>
<circle cx="511.3" cy="629.7" r="2.75" fill="#22b573"/>
<circle cx="522.5" cy="629.7" r="2.75" fill="#22b573"/>
<circle cx="533.8" cy="629.7" r="2.75" fill="#22b573"/>
<circle cx="545.0" cy="631.1" r="2.75" fill="#22b573"/>
<circle cx="556.2" cy="631.1" r="2.75" fill="#22b573"/>
<circle cx="567.5" cy="631.1" r="2.75" fill="#22b573"/>
<circle cx="578.7" cy="629.7" r="2.75" fill="#22b573"/>
<circle cx="590.0" cy="631.1" r="2.75" fill="#22b573"/>
<circle cx="601.2" cy="631.1" r="2.75" fill="#22b573"/>
<circle cx="612.4" cy="631.1" r="2.75" fill="#22b573"/>
<circle cx="623.7" cy="630.3" r="2.75" fill="#22b573"/>
<circle cx="634.9" cy="630.3" r="2.75" fill="#22b573"/>
<circle cx="646.2" cy="631.1" r="2.75" fill="#22b573"/>
<polyline points="376.4,631.1 387.6,631.1 398.9,631.1 410.1,631.1 421.4,631.1 432.6,631.1 443.8,631.1 455.1,631.1 466.3,631.1 477.6,631.1 488.8,631.1 500.0,631.1 511.3,631.1 522.5,631.1 533.8,631.1 545.0,631.1 556.2,631.1 567.5,631.1 578.7,631.1 590.0,631.1 601.2,631.1 612.4,631.1 623.7,631.1 634.9,631.1 646.2,631.1" fill="none" stroke="#dcdcda" stroke-width="0.8"/>
<circle cx="376.4" cy="631.1" r="2.75" fill="#dcdcda"/>
<circle cx="387.6" cy="631.1" r="2.75" fill="#dcdcda"/>
<circle cx="398.9" cy="631.1" r="2.75" fill="#dcdcda"/>
<circle cx="410.1" cy="631.1" r="2.75" fill="#dcdcda"/>
<circle cx="421.4" cy="631.1" r="2.75" fill="#dcdcda"/>
<circle cx="432.6" cy="631.1" r="2.75" fill="#dcdcda"/>
<circle cx="443.8" cy="631.1" r="2.75" fill="#dcdcda"/>
<circle cx="455.1" cy="631.1" r="2.75" fill="#dcdcda"/>
<circle cx="466.3" cy="631.1" r="2.75" fill="#dcdcda"/>
<circle cx="477.6" cy="631.1" r="2.75" fill="#dcdcda"/>
<circle cx="488.8" cy="631.1" r="2.75" fill="#dcdcda"/>
<circle cx="500.0" cy="631.1" r="2.75" fill="#dcdcda"/>
<circle cx="511.3" cy="631.1" r="2.75" fill="#dcdcda"/>
<circle cx="522.5" cy="631.1" r="2.75" fill="#dcdcda"/>
<circle cx="533.8" cy="631.1" r="2.75" fill="#dcdcda"/>
<circle cx="545.0" cy="631.1" r="2.75" fill="#dcdcda"/>
<circle cx="556.2" cy="631.1" r="2.75" fill="#dcdcda"/>
<circle cx="567.5" cy="631.1" r="2.75" fill="#dcdcda"/>
<circle cx="578.7" cy="631.1" r="2.75" fill="#dcdcda"/>
<circle cx="590.0" cy="631.1" r="2.75" fill="#dcdcda"/>
<circle cx="601.2" cy="631.1" r="2.75" fill="#dcdcda"/>
<circle cx="612.4" cy="631.1" r="2.75" fill="#dcdcda"/>
<circle cx="623.7" cy="631.1" r="2.75" fill="#dcdcda"/>
<circle cx="634.9" cy="631.1" r="2.75" fill="#dcdcda"/>
<circle cx="646.2" cy="631.1" r="2.75" fill="#dcdcda"/>
<polyline points="376.4,630.8 387.6,630.8 398.9,630.8 410.1,630.8 421.4,630.1 432.6,630.8 443.8,630.8 455.1,630.8 466.3,630.8 477.6,630.8 488.8,630.8 500.0,630.1 511.3,630.8 522.5,630.8 533.8,630.8 545.0,630.8 556.2,630.8 567.5,630.8 578.7,630.8 590.0,630.8 601.2,630.1 612.4,630.8 623.7,630.8 634.9,630.8 646.2,630.8" fill="none" stroke="#6ab0e2" stroke-width="1.0"/>
<circle cx="376.4" cy="630.8" r="2.75" fill="#6ab0e2"/>
<circle cx="387.6" cy="630.8" r="2.75" fill="#6ab0e2"/>
<circle cx="398.9" cy="630.8" r="2.75" fill="#6ab0e2"/>
<circle cx="410.1" cy="630.8" r="2.75" fill="#6ab0e2"/>
<circle cx="421.4" cy="630.1" r="2.75" fill="#6ab0e2"/>
<circle cx="432.6" cy="630.8" r="2.75" fill="#6ab0e2"/>
<circle cx="443.8" cy="630.8" r="2.75" fill="#6ab0e2"/>
<circle cx="455.1" cy="630.8" r="2.75" fill="#6ab0e2"/>
<circle cx="466.3" cy="630.8" r="2.75" fill="#6ab0e2"/>
<circle cx="477.6" cy="630.8" r="2.75" fill="#6ab0e2"/>
<circle cx="488.8" cy="630.8" r="2.75" fill="#6ab0e2"/>
<circle cx="500.0" cy="630.1" r="2.75" fill="#6ab0e2"/>
<circle cx="511.3" cy="630.8" r="2.75" fill="#6ab0e2"/>
<circle cx="522.5" cy="630.8" r="2.75" fill="#6ab0e2"/>
<circle cx="533.8" cy="630.8" r="2.75" fill="#6ab0e2"/>
<circle cx="545.0" cy="630.8" r="2.75" fill="#6ab0e2"/>
<circle cx="556.2" cy="630.8" r="2.75" fill="#6ab0e2"/>
<circle cx="567.5" cy="630.8" r="2.75" fill="#6ab0e2"/>
<circle cx="578.7" cy="630.8" r="2.75" fill="#6ab0e2"/>
<circle cx="590.0" cy="630.8" r="2.75" fill="#6ab0e2"/>
<circle cx="601.2" cy="630.1" r="2.75" fill="#6ab0e2"/>
<circle cx="612.4" cy="630.8" r="2.75" fill="#6ab0e2"/>
<circle cx="623.7" cy="630.8" r="2.75" fill="#6ab0e2"/>
<circle cx="634.9" cy="630.8" r="2.75" fill="#6ab0e2"/>
<circle cx="646.2" cy="630.8" r="2.75" fill="#6ab0e2"/>
</svg>
<div class="t6" style="left:333.4px;width:30px;text-align:right;top:564.4px">3,000</div>
<div class="t6" style="left:333.4px;width:30px;text-align:right;top:585.3px">2,000</div>
<div class="t6" style="left:333.4px;width:30px;text-align:right;top:606.2px">1,000</div>
<div class="t6" style="left:333.4px;width:30px;text-align:right;top:627.1px">0</div>
<div class="t6 t6x" style="left:356.4px;width:40px;text-align:center;top:637.8px">06/2019</div>
<div class="t6 t6x" style="left:401.4px;width:40px;text-align:center;top:637.8px">02/2020</div>
<div class="t6 t6x" style="left:446.3px;width:40px;text-align:center;top:637.8px">06/2020</div>
<div class="t6 t6x" style="left:491.3px;width:40px;text-align:center;top:637.8px">10/2020</div>
<div class="t6 t6x" style="left:536.2px;width:40px;text-align:center;top:637.8px">02/2021</div>
<div class="t6 t6x" style="left:581.2px;width:40px;text-align:center;top:637.8px">06/2021</div>
<div class="t6 t6x" style="left:626.2px;width:40px;text-align:center;top:637.8px">10/2021</div>
<div class="dot" style="left:349.8px;top:659.4px;background:#0f1c2b"></div>
<div class="lg" style="left:364.0px;top:661.3px">SSL</div>
<div class="dot" style="left:456.6px;top:659.4px;background:#22b573"></div>
<div class="lg" style="left:470.8px;top:661.3px">Client Certificate</div>
<div class="dot" style="left:349.8px;top:677.1px;background:#dfe0df"></div>
<div class="lg" style="left:364.0px;top:679.0px">Code Signing</div>
<div class="dot" style="left:456.6px;top:677.1px;background:#6ab0e2"></div>
<div class="lg" style="left:470.8px;top:679.0px">Device</div>
<svg class="abs" style="left:0;top:0;pointer-events:none" width="1581" height="833" viewBox="0 0 1581 833">
<circle cx="782.2" cy="622.2" r="38" fill="none" stroke="#22b573" stroke-width="10.9"/>
<path d="M782.20 578.75 L785.12 578.85 L784.39 589.72 L782.20 589.65Z" fill="#0f1c2b"/>
</svg>
<svg class="abs" style="left:0;top:0;pointer-events:none" width="1581" height="833" viewBox="0 0 1581 833">
<circle cx="1144.85" cy="622.2" r="38" fill="none" stroke="#6ab0e2" stroke-width="10.9"/>
<path d="M1144.85 578.75 L1147.43 578.83 L1146.78 589.71 L1144.85 589.65Z" fill="#0f1c2b"/>
<path d="M1147.43 578.83 L1147.88 578.86 L1147.12 589.73 L1146.78 589.71Z" fill="#22b573"/>
<path d="M1147.88 578.86 L1148.56 578.91 L1147.63 589.77 L1147.12 589.73Z" fill="#dfe0df"/>
</svg>
<div class="dot" style="left:924.6px;top:602.9px;background:#0f1c2b"></div>
<div class="lg" style="left:938.8px;top:604.9px">Single Domain</div>
<div class="lg" style="left:975.8px;width:40px;text-align:right;top:604.9px">1.07%</div>
<div class="dot" style="left:924.6px;top:620.6px;background:#22b573"></div>
<div class="lg" style="left:938.8px;top:622.6px">Multi Domain</div>
<div class="lg" style="left:975.8px;width:40px;text-align:right;top:622.6px">98.85%</div>
<div class="dot" style="left:924.6px;top:636.9px;background:#dfe0df"></div>
<div class="lg" style="left:938.8px;top:638.9px">Wildcard</div>
<div class="lg" style="left:975.8px;width:40px;text-align:right;top:638.9px">0.08%</div>
<div class="dot" style="left:1313.8999999999999px;top:593.6px;background:#040d1b"></div>
<div class="lg" style="left:1328.1px;top:595.6px">OV</div>
<div class="lg" style="left:1339px;width:40px;text-align:right;top:595.6px">0.95%</div>
<div class="dot" style="left:1313.8999999999999px;top:611.1px;background:#22b573"></div>
<div class="lg" style="left:1328.1px;top:613.1px">DV</div>
<div class="lg" style="left:1339px;width:40px;text-align:right;top:613.1px">0.16%</div>
<div class="dot" style="left:1313.8999999999999px;top:628.9px;background:#dfe0df"></div>
<div class="lg" style="left:1328.1px;top:630.9px">EV</div>
<div class="lg" style="left:1339px;width:40px;text-align:right;top:630.9px">0.24%</div>
<div class="dot" style="left:1313.8999999999999px;top:645.1px;background:#6ab0e2"></div>
<div class="lg" style="left:1328.1px;top:647.1px">Other</div>
<div class="lg" style="left:1339px;width:40px;text-align:right;top:647.1px">98.65%</div>
<div class="abs" style="left:1404.6px;top:80px;width:8px;height:660px;background:#fff"></div>
<div class="abs" style="left:1405.2px;top:80px;width:3.6px;height:264px;background:#c6c6c6;border-radius:0 0 2px 2px"></div>
<div class="abs" style="left:164px;top:739.3px;width:1248px;height:6px;background:linear-gradient(180deg,#d9d9d9,#e6e6e6 45%,#f7f7f7);z-index:8"></div>
<svg class="abs" style="left:1400px;top:729px;z-index:9" width="10" height="10" viewBox="0 0 10 10"><path d="M1 9 L9 1 M4 9 L9 4 M7 9 L9 7" stroke="#aaa" stroke-width="0.7"/></svg>
<div class="abs" style="left:1411.1px;top:39px;width:1px;height:706px;background:#fff;z-index:9"></div>
</div></div>
<div class="abs" style="left:134px;top:7.8px;width:1309px;height:771.2px;pointer-events:none;z-index:20;mix-blend-mode:screen;
clip-path:path('M611.6 0 H1271 A38 38 0 0 1 1309 38 V771.2 H873.6 Z');
background:linear-gradient(180deg,rgb(105,100,99) 0,rgb(89,84,83) 5%,rgb(84,79,78) 13%,rgb(61,58,58) 33%,rgb(39,38,38) 58%,rgb(22,22,22) 84%,rgb(13,13,13) 100%)"></div>
<div class="abs" style="z-index:21;left:778px;top:17.4px;width:14.6px;height:14.6px;border-radius:50%;background:radial-gradient(circle at 45% 40%,rgba(255,255,255,.32) 0,rgba(255,255,255,.16) 35%,rgba(255,255,255,.10) 70%,rgba(255,255,255,.06) 100%)"></div>
<div class="abs" style="z-index:21;left:783px;top:22.4px;width:3px;height:3px;border-radius:50%;background:rgba(255,255,255,.55);filter:blur(.6px)"></div>
<div class="abs" style="z-index:21;left:787.4px;top:27.2px;width:2px;height:2px;border-radius:50%;background:rgba(255,255,255,.6);filter:blur(.4px)"></div>
<div class="abs" style="left:0;top:779px;width:1581px;height:17.5px;background:linear-gradient(90deg,#f0f0f0 0,#dcdcdc 5px,#9a9a9a 19px,#6d6d6d 45px,#8f8f8f 75px,#aaa 100px,#c6c6c6 126px,#d2d2d2 140px,#dedede 300px,#e8e8e8 400px,#fff 480px,#fff 1010px,#efefef 1060px,#dedede 1185px,#d4d4d4 1440px,#c8c8c8 1480px,#999 1499px,#727272 1527px,#6a6a6a 1546px,#999 1562px,#ccc 1573px,#ddd 1581px)"></div>
<svg class="abs" style="left:0;top:796px" width="1581" height="37" viewBox="0 0 1581 37">
<defs><linearGradient id="bg1" x1="0" y1="0" x2="0" y2="1"><stop offset="0" stop-color="#dcdcdc"/><stop offset="0.1" stop-color="#d2d2d3"/><stop offset="0.25" stop-color="#b2b3b5"/><stop offset="0.45" stop-color="#8f9092"/><stop offset="0.56" stop-color="#8f9092"/><stop offset="0.80" stop-color="#adaeb0"/><stop offset="1" stop-color="#c0c1c3"/></linearGradient>
<linearGradient id="bg2" x1="0" y1="0" x2="1" y2="0"><stop offset="0" stop-color="#fff" stop-opacity=".45"/><stop offset="0.06" stop-color="#fff" stop-opacity=".12"/><stop offset="0.12" stop-color="#fff" stop-opacity="0"/><stop offset="0.88" stop-color="#fff" stop-opacity="0"/><stop offset="0.94" stop-color="#fff" stop-opacity=".12"/><stop offset="1" stop-color="#fff" stop-opacity=".45"/></linearGradient></defs>
<path id="bp" d="M0 0 H1581 Q1556 17 1478 37 H101 Q33 19 0 0 Z" fill="url(#bg1)"/>
<path d="M0 0 H1581 Q1556 17 1478 37 H101 Q33 19 0 0 Z" fill="url(#bg2)"/>
</svg>
</body></html>
